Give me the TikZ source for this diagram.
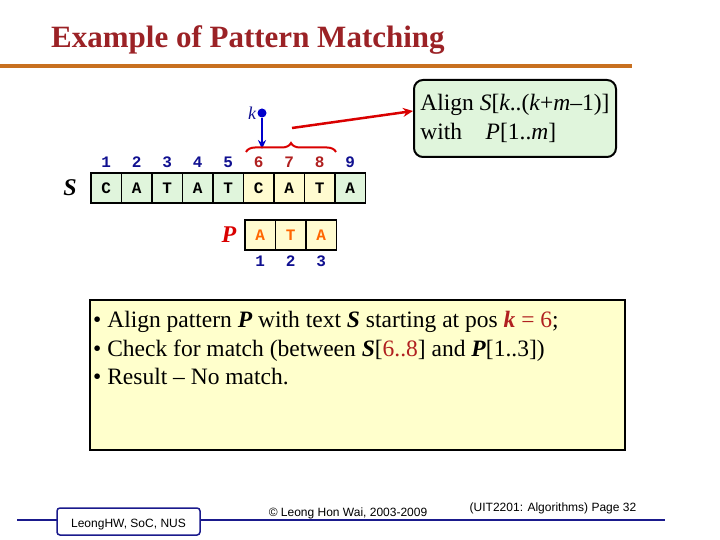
\documentclass[tikz,border=0pt]{standalone}
\usepackage{fontspec}
\setmainfont{Liberation Serif}
\newfontfamily\arial{Liberation Sans}
\newfontfamily\cour{Liberation Mono}
\usetikzlibrary{decorations.pathreplacing,arrows.meta}
\definecolor{titlered}{HTML}{9B2226}
\definecolor{orangeline}{HTML}{C87020}
\definecolor{cellgreen}{HTML}{E0F5DC}
\definecolor{cellyellow}{HTML}{FFFBD0}
\definecolor{boxyellow}{HTML}{FFFFCC}
\definecolor{idxblue}{HTML}{101090}
\definecolor{idxred}{HTML}{B02020}
\definecolor{footblue}{HTML}{1A1A8C}
\tikzset{
 cell/.style={draw,line width=1.5pt,minimum width=30.5pt,minimum height=30pt,inner sep=0pt,font=\cour\bfseries\fontsize{16}{16}\selectfont},
 idx/.style={font=\cour\bfseries\fontsize{16}{16}\selectfont,inner sep=0pt},
 foot/.style={font=\arial\fontsize{12}{12}\selectfont,inner sep=0pt}
}
\begin{document}
\begin{tikzpicture}[x=1pt,y=-1pt]
\useasboundingbox (0,0) rectangle (720,540);
\node[anchor=west,text=titlered,font=\bfseries\fontsize{31}{31}\selectfont,inner sep=0pt] (title) at (51,40) {Example of Pattern Matching};
\draw[orangeline,line width=4pt] (0,66) -- (632,66);
% S array
\node[font=\bfseries\itshape\fontsize{24}{24}\selectfont] (Slab) at (70,188) {S};
\foreach \i/\c in {1/C,2/A,3/T,4/A,5/T,6/C,7/A,8/T,9/A}{
  \pgfmathsetmacro{\xx}{91+30.5*(\i-0.5)}
  \ifnum\i>5 \ifnum\i<9
    \node[cell,fill=cellyellow] (s\i) at (\xx,188) {\c};
    \node[idx,text=idxred] (n\i) at (\xx,162) {\i};
  \else
    \node[cell,fill=cellgreen] (s\i) at (\xx,188) {\c};
    \node[idx,text=idxblue] (n\i) at (\xx,162) {\i};
  \fi\else
    \node[cell,fill=cellgreen] (s\i) at (\xx,188) {\c};
    \node[idx,text=idxblue] (n\i) at (\xx,162) {\i};
  \fi
}
% P array
\node[font=\bfseries\itshape\fontsize{24}{24}\selectfont,text=red!85!black] (Plab) at (229,235) {P};
\foreach \i/\c in {1/A,2/T,3/A}{
  \pgfmathsetmacro{\xx}{245+30.5*(\i-0.5)}
  \node[cell,fill=cellyellow,text=orange!80!red] (p\i) at (\xx,235) {\c};
  \node[idx,text=idxblue] (q\i) at (\xx,261) {\i};
}
% k pointer
\node[circle,fill=blue!80!black,inner sep=0pt,minimum size=9pt] (kdot) at (262,113) {};
\node[text=idxblue,font=\itshape\fontsize{18}{18}\selectfont,anchor=east,inner sep=1pt] (klab) at (kdot.west) {k};
\coordinate (ktip) at (262,149);
\draw[blue!80!black,line width=2pt,-{Stealth[length=9pt,width=8pt]}] (kdot) -- (ktip);
% brace
\coordinate (bl) at (246,152);
\coordinate (br) at (336,152);
\draw[red!85!black,line width=2pt,decorate,decoration={brace,amplitude=9pt}] (bl) -- (br);
\coordinate (bt) at (292,128);
% callout
\node[draw,line width=2pt,rounded corners=9pt,fill=cellgreen,minimum width=202pt,minimum height=77pt,align=left,font=\fontsize{23.5}{29}\selectfont,inner sep=0pt] (call) at (515,118.5)
 {Align \textit{S}[\textit{k}..(\textit{k}+\textit{m}–1)]\\with\quad\textit{P}[1..\textit{m}]};
\draw[red!85!black,line width=2.5pt,-{Stealth[length=10pt,width=9pt]}] (bt) -- (call.west |- 0,111);
% bottom box
\node[draw,line width=2.5pt,fill=boxyellow,minimum width=535pt,minimum height=150pt] (bbox) at (357.5,375) {};
\node[anchor=north west,align=left,inner sep=0pt,font=\fontsize{23.5}{28.5}\selectfont] (btext) at (93,311)
 {• Align pattern \textbf{\textit{P}} with text \textbf{\textit{S}} starting at pos \textcolor{idxred}{\textit{\textbf{k}} = 6};\\
  • Check for match (between \textbf{\textit{S}}[\textcolor{idxred}{6..8}] and \textbf{\textit{P}}[1..3])\\
  • Result – No match.};
% footer
\draw[footblue,line width=1.5pt] (17,520) -- (665,520);
\node[draw=footblue,line width=1.5pt,rounded corners=3pt,fill=white,minimum width=143pt,minimum height=27pt,inner sep=0pt] (fbox) at (128.5,521.5) {};
\node[foot,anchor=south] (fname) at (128.5,530) {LeongHW, SoC, NUS};
\node[foot] (fcopy) at (348,513) {© Leong Hon Wai, 2003-2009};
\node[foot] (fpage) at (553,508) {(UIT2201: Algorithms) Page 32};
\end{tikzpicture}
\end{document}
